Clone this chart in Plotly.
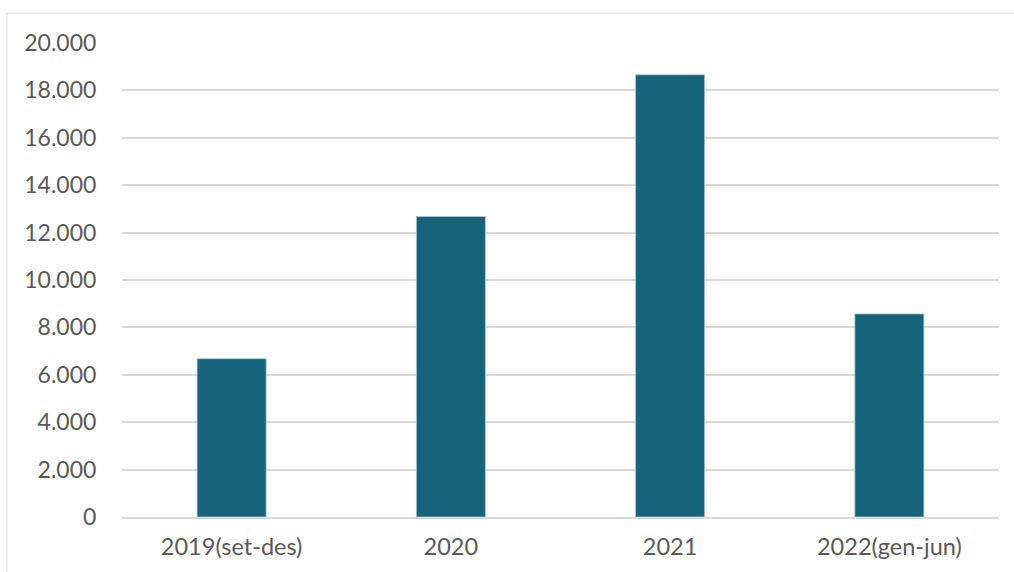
import plotly.graph_objects as go

categories = ["2019(set-des)", "2020", "2021", "2022(gen-jun)"]
values = [6680, 12680, 18660, 8570]
y_tickvals = list(range(0, 20001, 2000))
y_ticktext = ["0", "2.000", "4.000", "6.000", "8.000", "10.000", "12.000", "14.000", "16.000", "18.000", "20.000"]

W, H = 1014, 572
ml, mr, mt, mb = 122, 15, 43, 53
pw = W - ml - mr
ph = H - mt - mb

fig = go.Figure(go.Bar(
    x=categories, y=values,
    marker=dict(color="#17647A", line=dict(color="#A9CCD6", width=0.8)),
    width=0.315,
))

fig.update_layout(
    width=W, height=H,
    margin=dict(l=ml, r=mr, t=mt, b=mb),
    paper_bgcolor="white", plot_bgcolor="white",
    font=dict(family="Lato", size=23, color="#595959"),
    showlegend=False,
    xaxis=dict(showgrid=False, showline=True, linecolor="#D9D9D9", linewidth=1.5,
               ticks="outside", ticklen=8, tickcolor="rgba(0,0,0,0)",
               tickfont=dict(size=23.5, color="#595959")),
    yaxis=dict(range=[0, 20000], tickvals=y_tickvals, ticktext=y_ticktext,
               showgrid=True, gridcolor="#D9D9D9", gridwidth=1.5, zeroline=False,
               ticks="outside", ticklen=20, tickcolor="rgba(0,0,0,0)",
               tickfont=dict(size=23, color="#595959")),
    shapes=[
        dict(type="line", xref="paper", yref="paper",
             x0=(7 - ml) / pw, x1=(W + 5 - ml) / pw,
             y0=(H - mb - 13) / ph, y1=(H - mb - 13) / ph,
             line=dict(color="#D9D9D9", width=1)),
        dict(type="line", xref="paper", yref="paper",
             x0=(7 - ml) / pw, x1=(7 - ml) / pw,
             y0=(H - mb - 13) / ph, y1=-(mb + 5) / ph,
             line=dict(color="#D9D9D9", width=1)),
    ],
)

fig.write_html("out.html")
